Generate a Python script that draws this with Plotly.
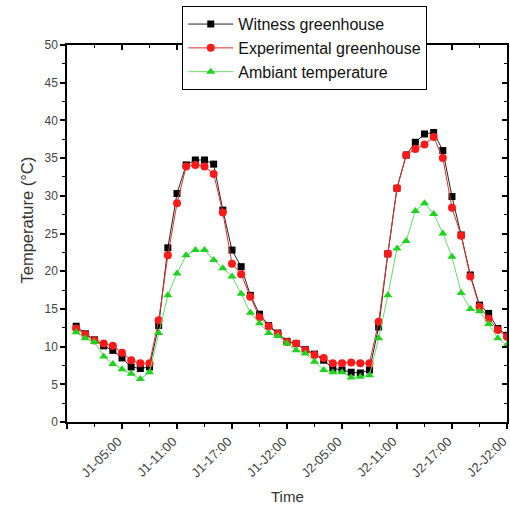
import numpy as np
import plotly.graph_objects as go

# Hourly readings over two days (J1 00:00 -> J2 23:00)
hours = np.arange(48)

witness = [12.7, 11.7, 10.9, 10.1, 9.5, 8.5, 7.3, 7.1, 7.3, 12.8,
           23.1, 30.3, 34.1, 34.75, 34.75, 34.2, 28.1, 22.8, 20.6, 16.8,
           14.3, 12.8, 11.8, 10.7, 10.4, 9.6, 9.0, 8.2, 7.1, 6.9,
           6.6, 6.5, 6.9, 12.6, 22.3, 31.0, 35.4, 37.1, 38.2, 38.4,
           36.0, 29.9, 24.8, 19.5, 15.5, 14.4, 12.4, 11.5]

experimental = [12.4, 11.6, 10.8, 10.4, 10.1, 9.2, 8.2, 7.8, 7.8, 13.5,
                22.1, 29.0, 33.9, 34.1, 33.9, 32.9, 27.8, 21.0, 19.6, 16.6,
                13.9, 12.7, 11.7, 10.6, 10.4, 9.5, 8.9, 8.5, 7.8, 7.8,
                7.9, 7.8, 7.8, 13.3, 22.3, 31.0, 35.4, 36.2, 36.8, 37.8,
                35.0, 28.4, 24.7, 19.3, 15.3, 13.7, 12.2, 11.3]

ambient = [11.9, 11.1, 10.6, 8.7, 7.7, 7.0, 6.4, 5.7, 6.6, 11.8,
           16.8, 19.7, 22.1, 22.8, 22.8, 21.5, 20.4, 19.3, 17.0, 14.5,
           13.1, 11.8, 11.4, 10.4, 9.5, 9.1, 8.0, 6.9, 6.6, 6.6,
           5.9, 6.0, 6.2, 11.1, 16.8, 23.0, 24.0, 28.0, 29.0, 27.6,
           25.0, 21.9, 17.1, 15.0, 14.7, 13.0, 11.1, 10.2]

tick_hours = [-1, 5, 11, 17, 23, 29, 35, 41, 47]
tick_labels = ["", "J1-05:00", "J1-11:00", "J1-17:00", "J1-J2:00",
               "J2-05:00", "J2-11:00", "J2-17:00", "J2-J2:00"]

X_RANGE = [-1, 47.001]
FONT = "Liberation Sans, Arial, sans-serif"

fig = go.Figure()

fig.add_trace(go.Scatter(
    x=hours, y=witness, name="Witness greenhouse", mode="lines+markers",
    line=dict(color="#222222", width=1),
    marker=dict(symbol="square", size=7, color="#000000"),
))
fig.add_trace(go.Scatter(
    x=hours, y=experimental, name="Experimental greenhouse", mode="lines+markers",
    line=dict(color="#e03030", width=1),
    marker=dict(symbol="circle", size=8, color="#ff1a1a"),
))
fig.add_trace(go.Scatter(
    x=hours, y=ambient, name="Ambiant temperature", mode="lines+markers",
    line=dict(color="#66dd66", width=1),
    marker=dict(symbol="triangle-up", size=8, color="#1ed31e"),
))
# invisible copy tied to the mirrored top/right axes so they get drawn
fig.add_trace(go.Scatter(
    x=hours, y=witness, xaxis="x2", yaxis="y2", mode="markers",
    marker=dict(opacity=0), showlegend=False, hoverinfo="skip",
))

fig.update_layout(
    width=510, height=508,
    margin=dict(l=67, r=3, t=45, b=86),
    paper_bgcolor="white", plot_bgcolor="white",
    font=dict(family=FONT, color="#444444"),
    showlegend=True,
    legend=dict(
        x=0.262, y=1.103, xanchor="left", yanchor="top",
        bgcolor="white", bordercolor="#000000", borderwidth=1,
        font=dict(size=16, color="#111111"),
        itemwidth=45, tracegroupgap=0,
    ),
    xaxis=dict(
        range=X_RANGE, showgrid=False, zeroline=False, automargin=False,
        showline=True, linecolor="#000000", linewidth=1.5,
        tickmode="array", tickvals=tick_hours, ticktext=tick_labels,
        ticks="outside", ticklen=5, tickwidth=1.5, tickcolor="#000000",
        tickangle=-45, tickfont=dict(size=13, color="#444444"),
        ticklabeloverflow="allow", ticklabelshift=-4,
        minor=dict(tick0=-1, dtick=3, ticks="outside", ticklen=3,
                   tickwidth=1, tickcolor="#000000"),
    ),
    yaxis=dict(
        range=[0, 50], showgrid=False, zeroline=False, automargin=False,
        showline=True, linecolor="#000000", linewidth=1.5,
        tickmode="linear", tick0=0, dtick=5,
        ticks="outside", ticklen=5, tickwidth=1.5, tickcolor="#000000",
        tickfont=dict(size=12, color="#444444"),
        minor=dict(tick0=0, dtick=2.5, ticks="outside", ticklen=3,
                   tickwidth=1, tickcolor="#000000"),
    ),
    xaxis2=dict(
        range=X_RANGE, overlaying="x", side="top", showgrid=False,
        zeroline=False, showline=True, linecolor="#000000", linewidth=1.5,
        tickmode="array", tickvals=tick_hours, showticklabels=False,
        ticks="inside", ticklen=5, tickwidth=1.5, tickcolor="#000000",
        minor=dict(tick0=-1, dtick=3, ticks="inside", ticklen=3,
                   tickwidth=1, tickcolor="#000000"),
    ),
    yaxis2=dict(
        range=[0, 50], overlaying="y", side="right", showgrid=False,
        zeroline=False, showline=True, linecolor="#000000", linewidth=1.5,
        tickmode="linear", tick0=0, dtick=5, showticklabels=False,
        ticks="inside", ticklen=5, tickwidth=1.5, tickcolor="#000000",
        minor=dict(tick0=0, dtick=2.5, ticks="inside", ticklen=3,
                   tickwidth=1, tickcolor="#000000"),
    ),
    annotations=[
        dict(text="Temperature (°C)", xref="paper", yref="paper",
             x=-0.0905, y=0.535, xanchor="center", yanchor="middle",
             textangle=-90, showarrow=False,
             font=dict(size=16.5, color="#333333")),
        dict(text="Time", xref="paper", yref="paper",
             x=0.5, y=-0.198, xanchor="center", yanchor="middle",
             showarrow=False, font=dict(size=15, color="#333333")),
    ],
)

fig.write_html("out.html")
